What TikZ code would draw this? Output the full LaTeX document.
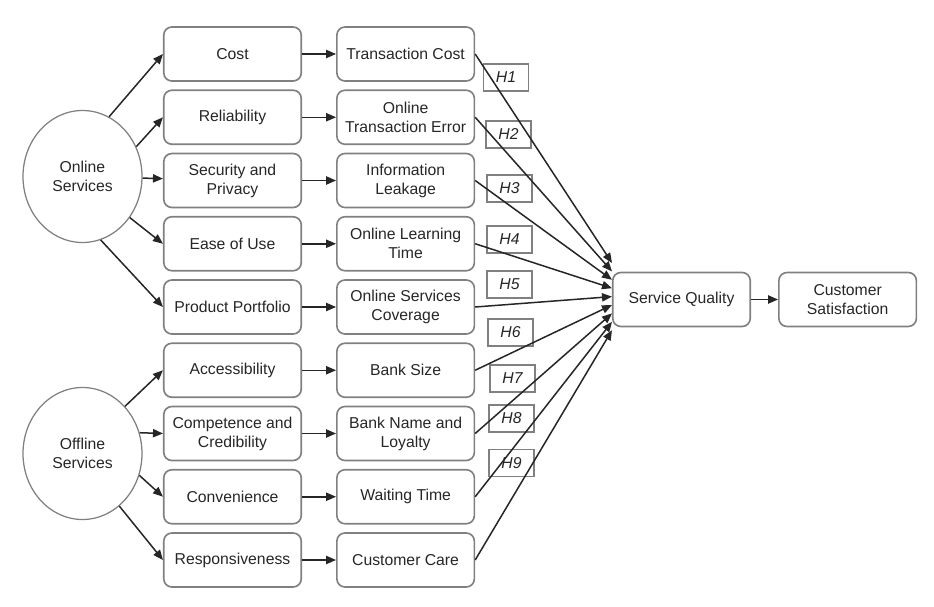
\documentclass[tikz,border=0pt]{standalone}
\usepackage{fontspec}
\setmainfont{Liberation Sans}
\usetikzlibrary{arrows.meta, positioning, shapes.geometric}
\definecolor{boxgray}{HTML}{808080}
\definecolor{inkgray}{HTML}{262626}
\tikzset{>={Triangle[length=8pt,width=6.6pt]},
    node distance=6.1pt,
    every node/.style={text=inkgray,font=\fontsize{12.6}{15.2}\selectfont},
    factor/.style={rectangle,rounded corners=6.5pt,draw=boxgray,line width=1.3pt,
        minimum width=110pt,minimum height=43.2pt,inner sep=2pt,align=center},
    service/.style={ellipse,draw=boxgray,line width=1pt,
        minimum width=95.2pt,minimum height=105.6pt,align=center},
    hyp/.style={rectangle,draw=boxgray,line width=1.2pt,minimum width=36pt,
        minimum height=21.6pt,inner sep=1pt,font=\fontsize{12.6}{15.2}\selectfont\itshape},
    link/.style={->,inkgray,line width=1.2pt}}

\begin{document}
\begin{tikzpicture}[x=0.8pt,y=-0.8pt]
\useasboundingbox (0,0) rectangle (934,606);
% dimensions
\node[factor] (cost)  at (232.5,54)         {Cost};
\node[factor] (rel)   [below=of cost]       {Reliability};
\node[factor] (sec)   [below=of rel]        {Security and\\Privacy};
\node[factor] (ease)  [below=of sec]        {Ease of Use};
\node[factor] (port)  [below=of ease]       {Product Portfolio};
\node[factor] (acc)   [below=of port]       {Accessibility};
\node[factor] (comp)  [below=of acc]        {Competence and\\Credibility};
\node[factor] (conv)  [below=of comp]       {Convenience};
\node[factor] (resp)  [below=of conv]       {Responsiveness};
% measures
\node[factor] (tcost) [right=27.2pt of cost] {Transaction Cost};
\node[factor] (terr)  [right=27.2pt of rel]  {Online\\Transaction Error};
\node[factor] (leak)  [right=27.2pt of sec]  {Information\\Leakage};
\node[factor] (learn) [right=27.2pt of ease] {Online Learning\\Time};
\node[factor] (cover) [right=27.2pt of port] {Online Services\\Coverage};
\node[factor] (size)  [right=27.2pt of acc]  {Bank Size};
\node[factor] (name)  [right=27.2pt of comp] {Bank Name and\\Loyalty};
\node[factor] (wait)  [right=27.2pt of conv] {Waiting Time};
\node[factor] (care)  [right=27.2pt of resp] {Customer Care};
% services
\node[service] (on)  at (82.5,176.5) {Online\\Services};
\node[service] (off) at (82.5,453.5) {Offline\\Services};
% outcome
\node[factor] (sq) at (681.5,299.5)   {Service Quality};
\node[factor] (cs) [right=21.6pt of sq] {Customer\\Satisfaction};
% hypotheses
\node[hyp] (h1) at (506,77.5)    {H1};
\node[hyp] (h2) at (508.5,134.5) {H2};
\node[hyp] (h3) at (509.5,188.5) {H3};
\node[hyp] (h4) at (509.5,239.5) {H4};
\node[hyp] (h5) at (509.5,284.5) {H5};
\node[hyp] (h6) at (510.5,332.5) {H6};
\node[hyp] (h7) at (512.5,378.5) {H7};
\node[hyp] (h8) at (511.5,418.5) {H8};
\node[hyp] (h9) at (511.5,463)   {H9};
\coordinate (q1) at (612,263);
\coordinate (q2) at (612,271.4);
\coordinate (q3) at (612,279.8);
\coordinate (q4) at (612,288.2);
\coordinate (q5) at (612,296.6);
\coordinate (q6) at (612,305);
\coordinate (q7) at (612,313.4);
\coordinate (q8) at (612,321.8);
\coordinate (q9) at (612,330.2);
\path[link]
    (on.66)   edge (cost.west)
    (on.29)   edge (rel.west)
    (on)      edge (sec)
    (on.-41)  edge (ease.west)
    (on.-74)  edge (port.west)
    (off.48)  edge (acc.west)
    (off.20)  edge (comp.west)
    (off.-21) edge (conv.west)
    (off.-55) edge (resp.west);
\path[link]
    (cost) edge (tcost)
    (rel)  edge (terr)
    (sec)  edge (leak)
    (ease) edge (learn)
    (port) edge (cover)
    (acc)  edge (size)
    (comp) edge (name)
    (conv) edge (wait)
    (resp) edge (care);
\path[link]
    (tcost.east) edge (q1)
    (terr.east)  edge (q2)
    (leak.east)  edge (q3)
    (learn.east) edge (q4)
    (cover.east) edge (q5)
    (size.east)  edge (q6)
    (name.east)  edge (q7)
    (wait.east)  edge (q8)
    (care.east)  edge (q9)
    (sq) edge (cs);
\end{tikzpicture}
\end{document}
